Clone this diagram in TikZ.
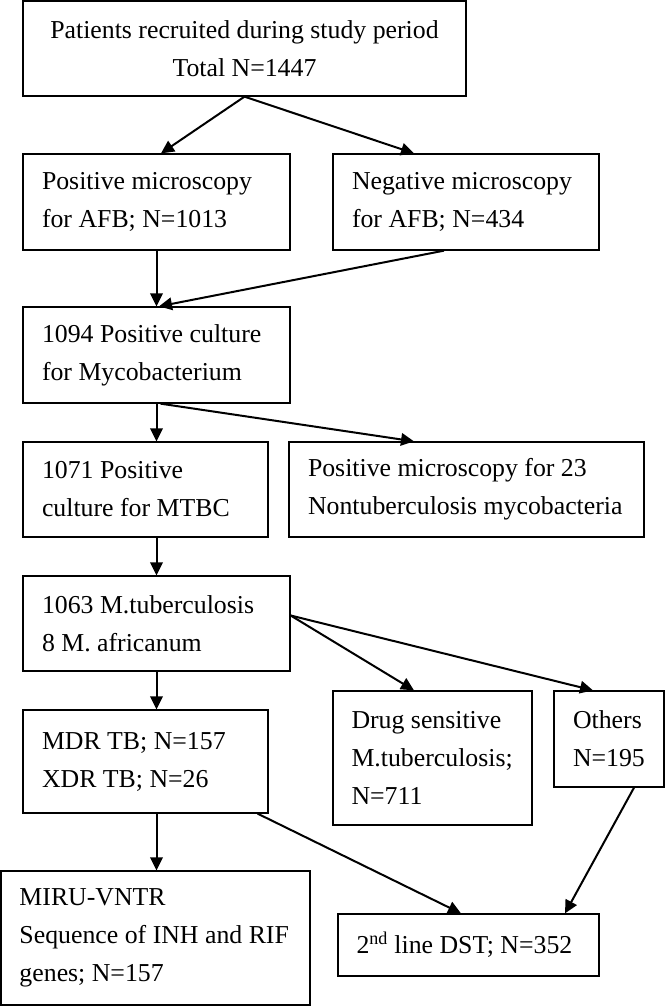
\documentclass[tikz,border=0pt]{standalone}
\usepackage{fontspec}
\setmainfont{Liberation Serif}
\usetikzlibrary{arrows.meta,calc}
\hyphenpenalty=10000
\exhyphenpenalty=10000
\begin{document}
\begin{tikzpicture}[x=1pt,y=-1pt,
  every node/.style={font=\fontsize{25.8}{38}\selectfont},
  box/.style={draw,line width=1.3pt,rectangle,inner sep=0pt,align=flush left},
  arr/.style={line width=2pt,-{Triangle[length=13pt,width=12.5pt]}}]
\useasboundingbox (0,0) rectangle (666,1006);
\node[box,align=center,minimum width=443,minimum height=95] (top) at (244.5,48.5)
  {Patients recruited during study period\\Total N=1447};
\node[box,minimum width=267,minimum height=96,text width=229] (pos) at (156.5,202)
  {Positive microscopy\\for AFB; N=1013};
\node[box,minimum width=266,minimum height=96,text width=228] (neg) at (466,202)
  {Negative microscopy\\for AFB; N=434};
\node[box,minimum width=267,minimum height=96,text width=229] (c1094) at (156.5,355)
  {1094 Positive culture\\for Mycobacterium};
\node[box,minimum width=245,minimum height=95,text width=207] (c1071) at (145.5,489.5)
  {1071 Positive\\culture for MTBC};
\node[box,minimum width=355,minimum height=95,text width=317] (ntm) at (466.5,489.5)
  {Positive microscopy for 23\\Nontuberculosis mycobacteria};
\node[box,minimum width=267,minimum height=95,text width=229] (m1063) at (156.5,623.5)
  {1063 M.tuberculosis\\8 M. africanum};
\node[box,minimum width=245,minimum height=103,text width=207] (mdr) at (145.5,761.5)
  {MDR TB; N=157\\XDR TB; N=26};
\node[box,minimum width=199,minimum height=134,text width=162] (drug) at (432.5,758)
  {Drug sensitive\\M.tuberculosis;\\N=711};
\node[box,minimum width=110,minimum height=96,text width=72] (others) at (609,739)
  {Others\\N=195};
\node[box,minimum width=309,minimum height=134,text width=272] (miru) at (155.5,938)
  {MIRU-VNTR\\Sequence of INH and RIF\\genes; N=157};
\node[box,minimum width=261,minimum height=62,text width=224] (dst) at (468.5,945)
  {2\textsuperscript{nd} line DST; N=352};
\draw[arr] (top.south) -- ([xshift=4.5pt]pos.north);
\draw[arr] (top.south) -- ([xshift=-52pt]neg.north);
\draw[arr] (pos.south) -- (c1094.north);
\draw[arr] ([xshift=-22pt]neg.south) -- ([xshift=2.5pt]c1094.north);
\draw[arr] (c1094.south) -- (c1094.south |- c1071.north);
\draw[arr] ([xshift=4pt]c1094.south) -- ([xshift=-52.5pt]ntm.north);
\draw[arr] (m1063.north |- c1071.south) -- (m1063.north);
\draw[arr] ([yshift=8pt]m1063.east) -- ([xshift=-18.5pt]drug.north);
\draw[arr] ([yshift=8pt]m1063.east) -- ([xshift=-16pt]others.north);
\draw[arr] (m1063.south) -- (m1063.south |- mdr.north);
\draw[arr] (m1063.south |- mdr.south) -- (m1063.south |- miru.north);
\draw[arr] ([xshift=-11pt]mdr.south east) -- ([xshift=-7.5pt]dst.north);
\draw[arr] ([xshift=25pt]others.south) -- ([xshift=96.5pt]dst.north);
\end{tikzpicture}
\end{document}
